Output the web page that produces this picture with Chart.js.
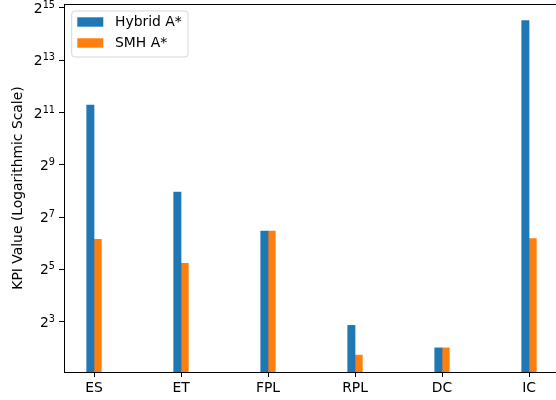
<!DOCTYPE html>
<html>
<head>
<meta charset="utf-8">
<script src="https://cdn.jsdelivr.net/npm/chart.js@4.4.1/dist/chart.umd.min.js"></script>
<style>
  html, body { margin: 0; padding: 0; background: #fff; overflow: hidden; }
  canvas { display: block; }
</style>
</head>
<body>
<canvas id="kpi" width="556" height="400"></canvas>
<script>
// KPI values per metric, drawn on a base-2 logarithmic axis
const categories = ['ES', 'ET', 'FPL', 'RPL', 'DC', 'IC'];
const hybridAStar = [2490, 249, 88.6, 7.26, 4.0, 23500];
const smhAStar = [71, 37.5, 88.6, 3.3, 4.0, 72.6];
const yTickValues = [8, 32, 128, 512, 2048, 8192, 32768];
const yTickBase = '2';
const yTickExponents = ['3', '5', '7', '9', '11', '13', '15'];
const seriesNames = ['Hybrid A*', 'SMH A*'];
const seriesColors = ['#1f77b4', '#ff7f0e'];

const FONT_FAMILY = 'DejaVu Sans';
const FONT_SIZE = 13.9;
const SUP_SIZE = FONT_SIZE * 0.7;
Chart.defaults.font.family = FONT_FAMILY;
Chart.defaults.font.size = FONT_SIZE;
Chart.defaults.color = '#000';

const toPoints = vals => vals.map((v, i) => ({ x: i, y: v }));

// Top frame line of the plot area
const topSpine = {
  id: 'topSpine',
  afterDraw(chart) {
    const { ctx, chartArea: a } = chart;
    ctx.save();
    ctx.strokeStyle = '#000';
    ctx.lineWidth = 1;
    ctx.beginPath();
    ctx.moveTo(a.left, a.top + 0.5);
    ctx.lineTo(a.right, a.top + 0.5);
    ctx.stroke();
    ctx.restore();
  }
};

// Power-of-two tick labels with a raised exponent, placed by the y scale
const powerLabels = {
  id: 'powerLabels',
  afterDraw(chart) {
    const { ctx } = chart;
    const scale = chart.scales.y;
    const right = scale.right - 5 - 4;
    ctx.save();
    ctx.fillStyle = '#000';
    ctx.textAlign = 'left';
    ctx.textBaseline = 'alphabetic';
    yTickValues.forEach((v, i) => {
      const y = scale.getPixelForValue(v);
      const exp = yTickExponents[i];
      ctx.font = SUP_SIZE + 'px "' + FONT_FAMILY + '"';
      const wExp = ctx.measureText(exp).width;
      ctx.font = FONT_SIZE + 'px "' + FONT_FAMILY + '"';
      const wBase = ctx.measureText(yTickBase).width;
      const x0 = right - wExp - wBase;
      ctx.fillText(yTickBase, x0, y + 5);
      ctx.font = SUP_SIZE + 'px "' + FONT_FAMILY + '"';
      ctx.fillText(exp, x0 + wBase, y);
    });
    ctx.restore();
  }
};

// Framed legend in the upper-left corner of the plot area
const boxLegend = {
  id: 'boxLegend',
  afterDraw(chart) {
    const { ctx, chartArea: a } = chart;
    const x0 = a.left + 7.7, y0 = a.top + 7, w = 116.3, h = 46, r = 3;
    ctx.save();
    ctx.beginPath();
    ctx.roundRect(x0, y0, w, h, r);
    ctx.fillStyle = 'rgba(255,255,255,0.8)';
    ctx.fill();
    ctx.strokeStyle = 'rgba(204,204,204,0.8)';
    ctx.lineWidth = 1;
    ctx.stroke();
    ctx.font = FONT_SIZE + 'px "' + FONT_FAMILY + '"';
    ctx.textBaseline = 'middle';
    ctx.textAlign = 'left';
    chart.data.datasets.forEach((ds, i) => {
      const rowTop = y0 + 6.3 + i * 21;
      ctx.fillStyle = ds.backgroundColor;
      ctx.fillRect(x0 + 5.6, rowTop, 26, 9.4);
      ctx.fillStyle = '#000';
      ctx.fillText(ds.label, x0 + 43.3, rowTop + 4.7);
    });
    ctx.restore();
  }
};

new Chart(document.getElementById('kpi'), {
  type: 'bar',
  data: {
    datasets: [
      { label: seriesNames[0], data: toPoints(hybridAStar), backgroundColor: seriesColors[0], borderWidth: 0 },
      { label: seriesNames[1], data: toPoints(smhAStar), backgroundColor: seriesColors[1], borderWidth: 0 }
    ]
  },
  options: {
    responsive: false,
    animation: false,
    devicePixelRatio: 1,
    layout: { autoPadding: false, padding: { top: 4, left: 0, right: 0, bottom: 0 } },
    datasets: { bar: { barThickness: 7.3, grouped: true } },
    plugins: { legend: { display: false }, tooltip: { enabled: false } },
    scales: {
      x: {
        type: 'linear',
        min: -0.345,
        max: 5.31,
        offset: false,
        afterBuildTicks: s => { s.ticks = categories.map((c, i) => ({ value: i })); },
        ticks: { callback: (v, i) => categories[i], padding: 3, autoSkip: false, maxRotation: 0, color: '#000' },
        grid: { drawOnChartArea: false, offset: false, color: '#000', tickLength: 5, tickWidth: 1 },
        border: { color: '#000', width: 1 },
        afterFit: s => { s.height = 28; s.paddingLeft = 0; s.paddingRight = 0; }
      },
      y: {
        type: 'logarithmic',
        min: 2.11,
        max: 36400,
        bounds: 'data',
        afterBuildTicks: s => { s.ticks = yTickValues.map(v => ({ value: v })); },
        ticks: { display: false, autoSkip: false },
        grid: { drawOnChartArea: false, drawTicks: true, color: '#000', tickLength: 5, tickWidth: 1 },
        border: { color: '#000', width: 1 },
        title: { display: true, text: 'KPI Value (Logarithmic Scale)', color: '#000', padding: { top: 10, bottom: 0 } },
        afterFit: s => { s.width = 64; s.paddingTop = 0; s.paddingBottom = 0; }
      }
    }
  },
  plugins: [topSpine, powerLabels, boxLegend]
});
</script>
</body>
</html>
